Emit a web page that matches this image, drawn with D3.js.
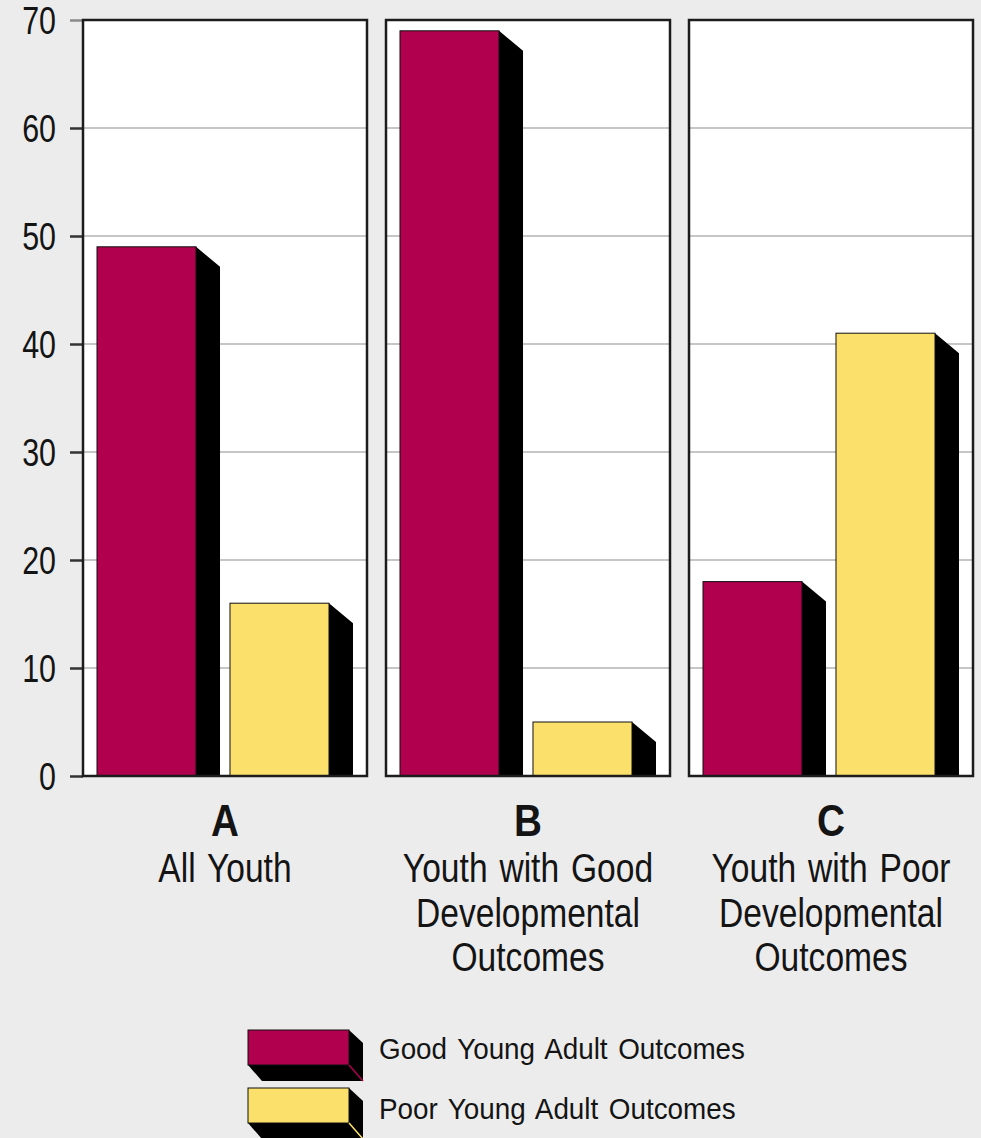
<!DOCTYPE html>
<html>
<head>
<meta charset="utf-8">
<script src="https://cdn.jsdelivr.net/npm/d3@7"></script>
<style>
  html, body { margin: 0; padding: 0; background: #ececec; }
  svg { display: block; }
  text { font-family: "Liberation Sans", Arial, sans-serif; fill: #141414; }
</style>
</head>
<body>
<svg id="chart" width="981" height="1138"></svg>
<script>
// Share of youth reaching good / poor young adult outcomes, by developmental group
const categories = ["A", "B", "C"];
const categoryLines = [
  ["All Youth"],
  ["Youth with Good", "Developmental", "Outcomes"],
  ["Youth with Poor", "Developmental", "Outcomes"]
];
const seriesKeys = ["good", "poor"];
const seriesNames = ["Good Young Adult Outcomes", "Poor Young Adult Outcomes"];
const seriesColors = ["#b0004e", "#fbe06b"];
const goodValues = [49, 69, 18];
const poorValues = [16, 5, 41];
const yTicks = [0, 10, 20, 30, 40, 50, 60, 70];

const svg = d3.select("#chart");
const W = 981, H = 1138;

svg.append("rect").attr("width", W).attr("height", H).attr("fill", "#ececec");

const y = d3.scaleLinear().domain([0, 70]).range([776, 20]);
const x0 = d3.scaleBand().domain(categories).range([83, 973]).paddingInner(0.0627);
const x1 = d3.scaleBand().domain(seriesKeys).range([14, 270]).paddingInner(0.075);

const depthX = 24, depthY = 20;
const valuesBySeries = { good: goodValues, poor: poorValues };
const colorBySeries = { good: seriesColors[0], poor: seriesColors[1] };

// Condensed text: regular face squeezed horizontally
function condensedText(parent, x, yy, str, size, sx, anchor, weight, wordGap) {
  return parent.append("text")
    .attr("transform", `translate(${x},${yy}) scale(${sx},1)`)
    .attr("text-anchor", anchor)
    .style("font-size", size + "px")
    .style("font-weight", weight || "normal")
    .style("word-spacing", (wordGap || 0) + "px")
    .text(str);
}

// Y axis tick marks
const axis = d3.axisLeft(y).tickValues(yTicks).tickSize(13).tickFormat("");
const gAxis = svg.append("g").attr("transform", "translate(83,0)").call(axis);
gAxis.select(".domain").remove();
gAxis.selectAll(".tick line").attr("stroke", "#333").attr("stroke-width", 2.5);
gAxis.selectAll(".tick").filter(d => d === 70).select("line").attr("stroke", "#8a8a8a");

// Y axis labels
const gLabels = svg.append("g");
yTicks.forEach(t => condensedText(gLabels, 56, y(t) + 13.5, String(t), 38, 0.8, "end"));

// Panels
const panels = svg.selectAll("g.panel")
  .data(categories.map((c, i) => ({ c, i })))
  .join("g")
  .attr("class", "panel")
  .attr("transform", d => `translate(${x0(d.c)},0)`);

panels.append("rect")
  .attr("x", 0).attr("y", y(70))
  .attr("width", x0.bandwidth()).attr("height", y(0) - y(70))
  .attr("fill", "#ffffff");

panels.selectAll("line.grid")
  .data(yTicks.filter(t => t > 0 && t < 70))
  .join("line")
  .attr("class", "grid")
  .attr("x1", 0).attr("x2", x0.bandwidth())
  .attr("y1", d => y(d)).attr("y2", d => y(d))
  .attr("stroke", "#c6c6c6").attr("stroke-width", 2);

// Bars: front face plus shaded side face
panels.each(function(p) {
  const g = d3.select(this);
  seriesKeys.forEach(k => {
    const v = valuesBySeries[k][p.i];
    const bx = x1(k);
    const fw = x1.bandwidth() - depthX;
    const top = y(v), base = y(0);
    g.append("polygon")
      .attr("points", [
        [bx + fw, top],
        [bx + fw + depthX, Math.min(top + depthY, base)],
        [bx + fw + depthX, base],
        [bx + fw, base]
      ].map(pt => pt.join(",")).join(" "))
      .attr("fill", "#000");
    g.append("rect")
      .attr("x", bx).attr("y", top)
      .attr("width", fw).attr("height", base - top)
      .attr("fill", colorBySeries[k])
      .attr("stroke", "#111").attr("stroke-width", 1);
  });
});

panels.append("rect")
  .attr("x", 0).attr("y", y(70))
  .attr("width", x0.bandwidth()).attr("height", y(0) - y(70))
  .attr("fill", "none")
  .attr("stroke", "#1c1c1c").attr("stroke-width", 2.5);

// Category labels
panels.each(function(p) {
  const g = d3.select(this);
  const cx = x0.bandwidth() / 2;
  condensedText(g, cx, 836, p.c, 45, 0.86, "middle", "bold");
  categoryLines[p.i].forEach((line, j) => {
    condensedText(g, cx, 882 + j * 44.5, line, 40, 0.84, "middle", "normal", 3);
  });
});

// Legend
const legend = svg.append("g");
const lw = 101, lh = 35, ldx = 14, ldy = 16;
const legendRows = seriesKeys.map((k, i) => ({ k, name: seriesNames[i], color: seriesColors[i], y: 1030 + i * 58, base: 1059 + i * 60 }));
legendRows.forEach(r => {
  const g = legend.append("g").attr("transform", `translate(248,${r.y})`);
  g.append("polygon")
    .attr("points", [[lw, 0], [lw + ldx, ldy - 3], [lw + ldx, lh + ldy], [ldx, lh + ldy], [0, lh]].map(pt => pt.join(",")).join(" "))
    .attr("fill", "#000");
  g.append("rect")
    .attr("x", 0).attr("y", 0).attr("width", lw).attr("height", lh)
    .attr("fill", r.color).attr("stroke", "#111").attr("stroke-width", 1);
  g.append("line")
    .attr("x1", lw).attr("y1", lh).attr("x2", lw + ldx).attr("y2", lh + ldy)
    .attr("stroke", r.color).attr("stroke-width", 1.5);
  condensedText(legend, 379, r.base, r.name, 29, 0.96, "start", "normal", 3);
});
</script>
</body>
</html>
